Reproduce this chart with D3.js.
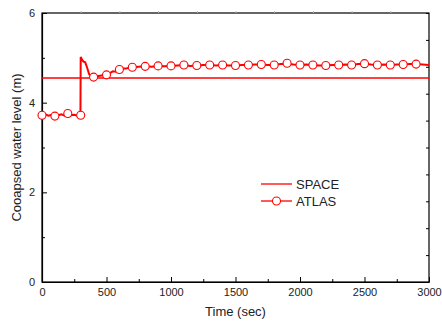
<!DOCTYPE html>
<html>
<head>
<meta charset="utf-8">
<script src="https://cdn.jsdelivr.net/npm/d3@7"></script>
<style>
  body { margin: 0; background: #fff; }
  svg { display: block; font-family: "Liberation Sans", Arial, sans-serif; }
</style>
</head>
<body>
<div id="chart"></div>
<script>
// SPACE calculation (flat line)
const spaceTime = [0, 3000];
const spaceLevel = [4.55, 4.55];

const atlasTime = [0, 25, 50, 75, 100, 125, 150, 175, 200, 225, 250, 275, 298, 300, 310, 320, 335, 350, 365, 380, 400,
  425, 450, 475, 500, 525, 550, 575, 600, 625, 650, 675, 700, 750, 800, 850, 900, 950, 1000, 1050, 1100, 1150, 1200,
  1250, 1300, 1350, 1400, 1450, 1500, 1550, 1600, 1650, 1700, 1750, 1800, 1850, 1900, 1950, 2000, 2050, 2100, 2150,
  2200, 2250, 2300, 2350, 2400, 2450, 2500, 2550, 2600, 2650, 2700, 2750, 2800, 2850, 2900, 2950, 3000];
const atlasLevel = [3.72, 3.74, 3.71, 3.73, 3.70, 3.72, 3.74, 3.71, 3.76, 3.72, 3.73, 3.71, 3.72, 5.02, 4.96, 4.92, 4.90, 4.78, 4.64, 4.58, 4.57,
  4.59, 4.60, 4.61, 4.62, 4.66, 4.70, 4.69, 4.74, 4.76, 4.76, 4.78, 4.79, 4.80, 4.81, 4.80, 4.82, 4.81, 4.82, 4.83, 4.84, 4.82, 4.83,
  4.84, 4.84, 4.83, 4.84, 4.83, 4.83, 4.84, 4.84, 4.85, 4.85, 4.84, 4.84, 4.86, 4.87, 4.85, 4.84, 4.85, 4.84, 4.83,
  4.83, 4.84, 4.84, 4.85, 4.84, 4.86, 4.87, 4.85, 4.84, 4.85, 4.84, 4.85, 4.85, 4.86, 4.86, 4.85, 4.84];

// ATLAS symbols every 100 sec
const markTime = [0, 100, 200, 300, 400, 500, 600, 700, 800, 900, 1000, 1100, 1200, 1300, 1400, 1500, 1600, 1700,
  1800, 1900, 2000, 2100, 2200, 2300, 2400, 2500, 2600, 2700, 2800, 2900];
const markLevel = [3.72, 3.70, 3.76, 3.72, 4.57, 4.62, 4.74, 4.79, 4.81, 4.82, 4.82, 4.84, 4.83, 4.84, 4.84, 4.83, 4.84, 4.85,
  4.84, 4.88, 4.84, 4.84, 4.83, 4.84, 4.84, 4.87, 4.84, 4.84, 4.85, 4.86];

const xTicks = [0, 500, 1000, 1500, 2000, 2500, 3000];
const yTicks = [0, 2, 4, 6];

const W = 442, H = 322;
const margin = {top: 13, right: 13, bottom: 40, left: 42};
const iw = W - margin.left - margin.right;
const ih = H - margin.top - margin.bottom;
const red = "#ff0000";

const svg = d3.select("#chart").append("svg").attr("width", W).attr("height", H);
const g = svg.append("g").attr("transform", "translate(" + margin.left + "," + margin.top + ")");

const x = d3.scaleLinear().domain([0, 3000]).range([0, iw]);
const y = d3.scaleLinear().domain([0, 6]).range([ih, 0]);

// frame
g.append("rect").attr("width", iw).attr("height", ih)
  .attr("fill", "none").attr("stroke", "#000").attr("stroke-width", 1.2);

// bottom axis, inward ticks
const xAx = g.append("g").attr("transform", "translate(0," + ih + ")")
  .call(d3.axisBottom(x).tickValues(xTicks).tickFormat(d3.format("d")).tickSize(-5).tickSizeOuter(0).tickPadding(6));
g.append("g").attr("transform", "translate(0," + ih + ")")
  .call(d3.axisBottom(x).tickValues(d3.range(250, 3000, 500)).tickSize(-3).tickFormat("").tickSizeOuter(0))
  .select(".domain").remove();

// left axis
const yAx = g.append("g")
  .call(d3.axisLeft(y).tickValues(yTicks).tickFormat(d3.format("d")).tickSize(-5).tickSizeOuter(0).tickPadding(7));
g.append("g")
  .call(d3.axisLeft(y).tickValues([1, 3, 5]).tickSize(-3).tickFormat("").tickSizeOuter(0))
  .select(".domain").remove();

// right axis ticks
g.append("g").attr("transform", "translate(" + iw + ",0)")
  .call(d3.axisRight(y).tickValues(d3.range(0.6, 6, 0.6)).tickSize(-3).tickFormat("").tickSizeOuter(0))
  .select(".domain").remove();

// top faint ticks
g.append("g")
  .call(d3.axisTop(x).tickValues(d3.range(300, 3000, 300)).tickSize(2).tickFormat("").tickSizeOuter(0))
  .call(a => a.select(".domain").remove())
  .selectAll("line").attr("stroke", "#bbb");

[xAx, yAx].forEach(a => {
  a.select(".domain").attr("stroke", "#000").attr("stroke-width", 1.2);
  a.selectAll("text").attr("font-size", 11).attr("fill", "#222")
    .attr("font-family", "'Liberation Sans', Arial, sans-serif");
});

// SPACE
const line = d3.line().x(d => x(d[0])).y(d => y(d[1]));
g.append("path").datum(d3.zip(spaceTime, spaceLevel))
  .attr("d", line).attr("fill", "none").attr("stroke", red).attr("stroke-width", 1.3);

// ATLAS
g.append("path").datum(d3.zip(atlasTime, atlasLevel))
  .attr("d", line).attr("fill", "none").attr("stroke", red).attr("stroke-width", 2);

g.selectAll(".mark").data(d3.zip(markTime, markLevel)).enter().append("circle")
  .attr("class", "mark")
  .attr("cx", d => x(d[0])).attr("cy", d => y(d[1])).attr("r", 4)
  .attr("fill", "#fff").attr("stroke", red).attr("stroke-width", 1.1);

// axis titles
svg.append("text").attr("x", margin.left + iw / 2).attr("y", 316)
  .attr("text-anchor", "middle").attr("font-size", 13).attr("fill", "#222")
  .text("Time (sec)");
svg.append("text")
  .attr("transform", "translate(21," + (margin.top + ih / 2) + ") rotate(-90)")
  .attr("text-anchor", "middle").attr("font-size", 13).attr("fill", "#222")
  .text("Cooapsed water level (m)");

// legend
const leg = svg.append("g").attr("transform", "translate(261,184)");
leg.append("line").attr("x1", 0).attr("x2", 31).attr("y1", 0).attr("y2", 0)
  .attr("stroke", red).attr("stroke-width", 1.3);
leg.append("text").attr("x", 35).attr("y", 4.5).attr("font-size", 13).attr("fill", "#222").text("SPACE");
leg.append("line").attr("x1", 0).attr("x2", 31).attr("y1", 17).attr("y2", 17)
  .attr("stroke", red).attr("stroke-width", 1.3);
leg.append("circle").attr("cx", 15.5).attr("cy", 17).attr("r", 4)
  .attr("fill", "#fff").attr("stroke", red).attr("stroke-width", 1.1);
leg.append("text").attr("x", 35).attr("y", 21.5).attr("font-size", 13).attr("fill", "#222").text("ATLAS");
</script>
</body>
</html>
